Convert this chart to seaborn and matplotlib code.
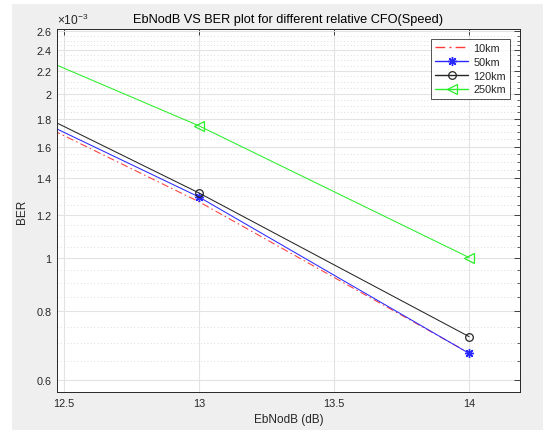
import numpy as np
import pandas as pd
import matplotlib
matplotlib.use("Agg")
import matplotlib.pyplot as plt
import seaborn as sns
from matplotlib.patches import Rectangle
from matplotlib.ticker import FixedLocator, NullFormatter

# values (BER, linear)
ebnodb = [12, 13, 14]
ber_10km = [2.216e-3, 1.269e-3, 0.671e-3]
ber_50km = [2.233e-3, 1.295e-3, 0.670e-3]
ber_120km = [2.307e-3, 1.317e-3, 0.719e-3]
ber_250km = [2.84e-3, 1.747e-3, 1.003e-3]
speeds = ["10km", "50km", "120km", "250km"]

yticks = [0.6, 0.8, 1.0, 1.2, 1.4, 1.6, 1.8, 2.0, 2.2, 2.4, 2.6]
ytick_labels = ["0.6", "0.8", "1", "1.2", "1.4", "1.6", "1.8", "2", "2.2", "2.4", "2.6"]
xticks = [12.5, 13, 13.5, 14]
xtick_labels = ["12.5", "13", "13.5", "14"]

df = pd.DataFrame({
    "EbNodB": ebnodb * 4,
    "BER": ber_10km + ber_50km + ber_120km + ber_250km,
    "speed": np.repeat(speeds, len(ebnodb)),
})

sns.set_theme(style="white")
plt.rcParams["font.family"] = ["Liberation Sans", "DejaVu Sans"]
plt.rcParams["mathtext.fontset"] = "custom"
plt.rcParams["mathtext.rm"] = "Liberation Sans"

fig = plt.figure(figsize=(5.43, 4.31), dpi=100, facecolor="white")
fig.patches.append(Rectangle((12 / 543, 0), 1, 1 - 5 / 431, transform=fig.transFigure,
                             facecolor="#efefef", edgecolor="none", zorder=-10))
ax = fig.add_axes([57 / 543, 1 - 393 / 431, 463 / 543, 363 / 431])
ax.set_facecolor("white")

colors = {"10km": "#ff3a3a", "50km": "#2a2aff", "120km": "#262626", "250km": "#2aee2a"}
styles = {
    "10km": dict(ls=(0, (7, 3, 1.5, 3)), marker="", ms=0, mfc="none", mew=0),
    "50km": dict(ls="-", marker=(8, 2, 0), ms=6.5, mfc="none", mew=1.0),
    "120km": dict(ls="-", marker="o", ms=5.5, mfc="none", mew=0.9),
    "250km": dict(ls="-", marker="<", ms=6.5, mfc="none", mew=0.9),
}

handles = []
for s in speeds:
    d = df[df["speed"] == s]
    n = len(ax.lines)
    sns.lineplot(data=d, x="EbNodB", y="BER", ax=ax, color=colors[s], lw=0.75)
    line = ax.lines[n]
    st = styles[s]
    line.set_linestyle(st["ls"])
    line.set_marker(st["marker"])
    line.set_markersize(st["ms"])
    line.set_markerfacecolor(st["mfc"])
    line.set_markeredgecolor(colors[s])
    line.set_markeredgewidth(st["mew"])
    handles.append(line)

ax.set_yscale("log")
ax.set_xlim(12.4756, 14.188)
ax.set_ylim(0.5696e-3, 2.625e-3)

ax.yaxis.set_major_locator(FixedLocator([v * 1e-3 for v in yticks]))
ax.set_yticklabels(ytick_labels)
minor = [round(v, 2) * 1e-3 for v in np.arange(0.6, 2.61, 0.05)]
ax.yaxis.set_minor_locator(FixedLocator(minor))
ax.yaxis.set_minor_formatter(NullFormatter())
ax.set_xticks(xticks)
ax.set_xticklabels(xtick_labels)

ax.grid(which="major", color="#e3e3e3", lw=0.8, ls="-")
ax.grid(which="minor", axis="y", color="#d2d2d2", lw=0.6, ls=(0, (1, 3)))
ax.set_axisbelow(True)

ax.tick_params(which="both", direction="in", top=True, right=True, labelsize=7.8,
               colors="#262626", pad=4)
ax.tick_params(which="major", length=4, width=0.6)
ax.tick_params(which="minor", length=2.5, width=0.5)
for sp in ax.spines.values():
    sp.set_color("#262626")
    sp.set_linewidth(0.7)

ax.set_xlabel("EbNodB (dB)", fontsize=8.5, color="#262626", labelpad=4)
ax.set_ylabel("BER", fontsize=8.5, color="#262626", labelpad=6)
ax.set_title("EbNodB VS BER plot for different relative CFO(Speed)", fontsize=9.2,
             color="black", pad=5)
ax.text(0.0, 1.006, r"$\times10^{-3}$", transform=ax.transAxes, fontsize=8.6,
        color="#262626", ha="left", va="bottom")

leg = ax.legend(handles=handles, labels=speeds, loc="upper right", fontsize=7.8,
                frameon=True, fancybox=False, edgecolor="#262626", handlelength=3.0,
                labelspacing=0.35, borderaxespad=0.9, borderpad=0.4, handletextpad=0.5)
leg.get_frame().set_linewidth(0.7)
for h, s in zip(leg.get_lines(), speeds):
    h.set_color(colors[s])
    h.set_linewidth(1.0)
    h.set_markeredgecolor(colors[s])

fig.savefig("out.png", dpi=100, facecolor=fig.get_facecolor())
